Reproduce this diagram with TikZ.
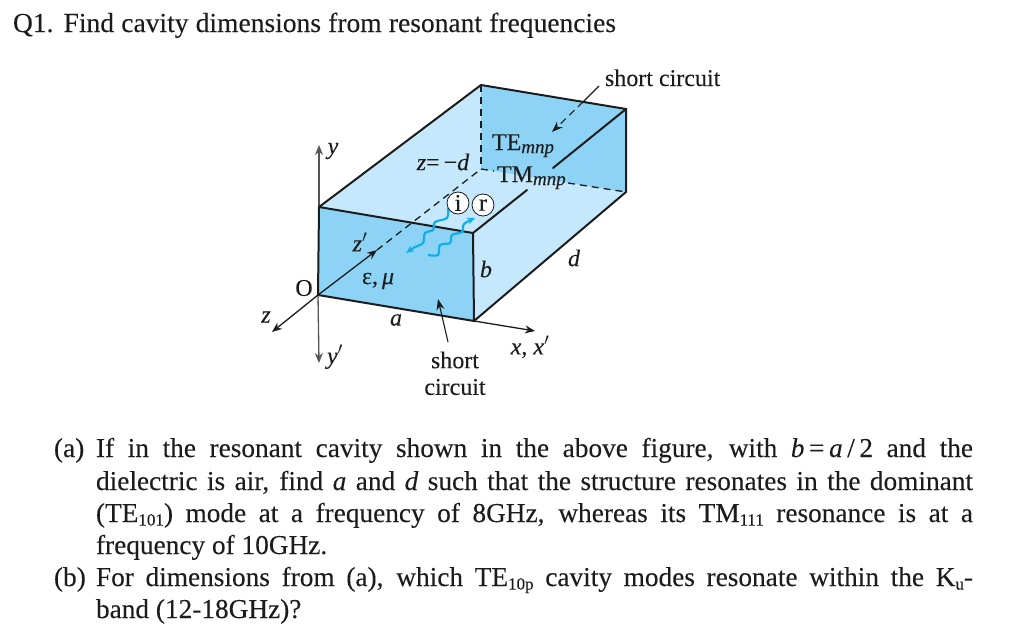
\documentclass[tikz,border=0pt]{standalone}
\usepackage{fontspec}
\setmainfont[FakeBold=0.12]{Liberation Serif}
\usetikzlibrary{arrows.meta}
\definecolor{lightb}{HTML}{C6E8FC}
\definecolor{medb}{HTML}{8CD3F6}
\definecolor{wavecol}{HTML}{12AEE8}
\definecolor{ink}{HTML}{1C1C1C}
\definecolor{axisgray}{HTML}{555555}
\newcommand{\sbs}[1]{\raisebox{-0.28ex}{\fontsize{17}{17}\selectfont #1}}
\newcommand{\isbs}[1]{\raisebox{-0.28ex}{\fontsize{19}{19}\selectfont\itshape #1}}
\newcommand{\fitline}[2]{\makebox[#1pt][s]{#2}}
\tikzset{
 every node/.style={text=ink,inner sep=0pt,outer sep=0pt},
 bodyline/.style={anchor=base west,font=\fontsize{27.3}{29}\selectfont},
 lbl/.style={font=\fontsize{24}{26}\selectfont},
 boxedge/.style={draw=ink,line width=2pt,line cap=round},
 hiddenline/.style={draw=ink,line width=1.3pt,dash pattern=on 7pt off 5pt},
 axisline/.style={draw=axisgray,line width=1.3pt,-{Stealth[length=10pt,width=8pt]}},
 darkaxis/.style={draw=ink,line width=1.3pt,-{Stealth[length=10pt,width=8pt]}},
 thinarrow/.style={draw=ink,line width=1.1pt,-{Stealth[length=11pt,width=8pt]}},
 wavyline/.style={draw=wavecol,line width=2.2pt,-{Stealth[length=8pt,width=7pt]}},
 ringmark/.style={circle,draw=ink,fill=white,line width=0.8pt,minimum size=22pt,font=\fontsize{24}{24}\selectfont}
}
\begin{document}
\begin{tikzpicture}[x=1pt,y=-1pt]
\useasboundingbox (0,0) rectangle (1024,637);
% corners
\coordinate (A) at (319,207); \coordinate (B) at (473,233);
\coordinate (C) at (474,321); \coordinate (D) at (318,295);
\coordinate (E) at (481,85);  \coordinate (F) at (626,109);
\coordinate (G) at (626,192); \coordinate (H) at (481,169);
% faces
\fill[lightb] (A)--(E)--(F)--(G)--(C)--(B)--cycle;
\fill[medb] (E)--(F)--(G)--(H)--cycle;
\fill[medb] (A)--(B)--(C)--(D)--cycle;
% axes
\coordinate (ytip) at (319,145); \coordinate (yptip) at (319,363);
\coordinate (ztip) at (272,332); \coordinate (xtip) at (535,331);
\coordinate (zptip) at (377,250);
\draw[axisline] (A)--(ytip);
\draw[axisline] (D)--(yptip);
\draw[darkaxis] (D)--(ztip);
\draw[darkaxis] (C)--(xtip);
\draw[darkaxis] (D)--(zptip);
% hidden edges
\draw[hiddenline] (zptip)--(H);
\draw[hiddenline] (E)--(H);
\coordinate (Hend) at (494,171); \coordinate (Gstart) at (568,183);
\draw[hiddenline] (H)--(Hend);
\draw[hiddenline] (Gstart)--(G);
% solid edges
\draw[boxedge] (A)--(B)--(C)--(D)--cycle;
\draw[boxedge] (A)--(E)--(F)--(G)--(C);
\coordinate (B1) at (527,190); \coordinate (F1) at (553,168);
\draw[boxedge] (B)--(B1);
\draw[boxedge] (F1)--(F);
% waves
\draw[wavyline] plot[smooth,tension=0.55] coordinates {(448,208) (447,218) (435,222) (433,230) (425,233) (423,243) (415,247) (406,253)};
\draw[wavyline] plot[smooth,tension=0.55] coordinates {(428,255) (438,255) (440,245) (450,243) (452,235) (462,232) (464,224) (475,218)};
% circles
\node[ringmark] (i) at (458,203) {i};
\node[ringmark] (r) at (483,205) {r};
% short circuit arrows
\node[lbl,anchor=base west] (sc1) at (605,86) {short circuit};
\coordinate (s1) at (599,86); \coordinate (s2) at (583,102); \coordinate (s3) at (552,132);
\draw[draw=ink,line width=1.1pt] (s1)--(s2);
\draw[hiddenline,line width=1.1pt,-{Stealth[length=11pt,width=8pt]}] (s2)--(s3);
\node[lbl] (sc2) at (455,360) {short};
\node[lbl] (sc3) at (455,387) {circuit};
\coordinate (s4) at (448,342); \coordinate (s5) at (438,299);
\draw[thinarrow] (s4)--(s5);
% labels
\node[lbl,font=\fontsize{24}{26}\selectfont\itshape] (ly) at (333,151) {y};
\node[lbl] (lzd) at (443,162) {\textit{z}=\,−\textit{d}};
\node[lbl,anchor=base west] (lte) at (492,150) {TE\isbs{mnp}};
\node[lbl,anchor=base west] (ltm) at (497,182) {TM\isbs{mnp}};
\node[lbl] (lem) at (378,281) {ε,\,\textit{μ}};
\node[lbl] (lo) at (304,288) {O};
\node[lbl] (lz) at (266,317) {\textit{z}};
\node[lbl] (lzp) at (360,242) {\textit{z}$'$};
\node[lbl] (la) at (396,320) {\textit{a}};
\node[lbl] (lb) at (486,269) {\textit{b}};
\node[lbl] (ld) at (574,258) {\textit{d}};
\node[lbl] (lyp) at (335,357) {\textit{y}$'$};
\node[lbl] (lx) at (530,347) {\textit{x}, \textit{x}$'$};
% text
\node[anchor=base west,font=\fontsize{27.5}{30}\selectfont] (title) at (13,32) {\fitline{603}{Q1. Find cavity dimensions from resonant frequencies}};
\node[bodyline] (pa) at (54,457) {(a)};
\node[bodyline] (l1) at (96,457) {\fitline{877}{If in the resonant cavity shown in the above figure, with \textit{b}\,=\,\textit{a}\,/\,2 and the}};
\node[bodyline] (l2) at (96,490) {\fitline{877}{dielectric is air, find \textit{a} and \textit{d} such that the structure resonates in the dominant}};
\node[bodyline] (l3) at (96,522) {\fitline{877}{(TE\sbs{101}) mode at a frequency of 8GHz, whereas its TM\sbs{111} resonance is at a}};
\node[bodyline] (l4) at (96,554) {frequency of 10GHz.};
\node[bodyline] (pb) at (54,586) {(b)};
\node[bodyline] (l5) at (96,586) {\fitline{877}{For dimensions from (a), which TE\sbs{10p} cavity modes resonate within the K\sbs{u}-}};
\node[bodyline] (l6) at (96,618) {band (12-18GHz)?};
\end{tikzpicture}
\end{document}
